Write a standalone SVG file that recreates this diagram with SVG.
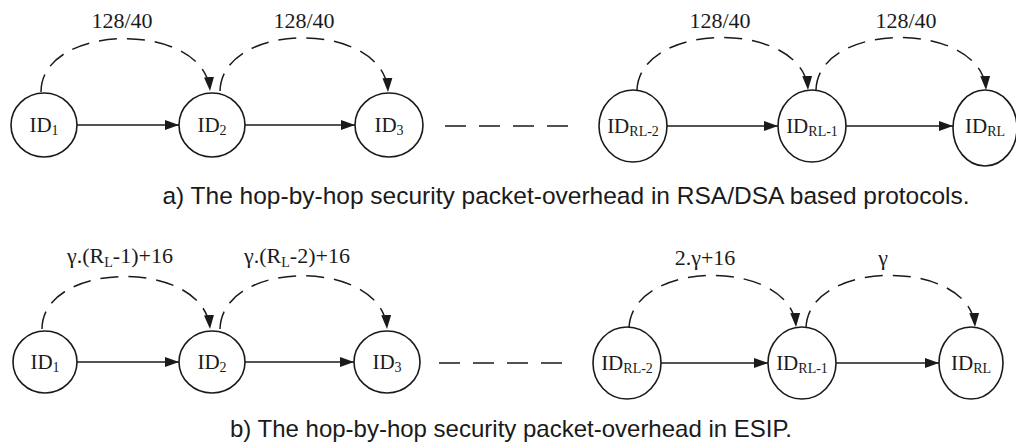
<svg xmlns="http://www.w3.org/2000/svg" width="1016" height="444" viewBox="0 0 1016 444">
<style>
.n{fill:#fff;stroke:#1a1a1a;stroke-width:1.6}
.e{fill:none;stroke:#1a1a1a;stroke-width:1.6}
.d{fill:none;stroke:#1a1a1a;stroke-width:1.5;stroke-dasharray:18 10}
.sep{fill:none;stroke:#1a1a1a;stroke-width:1.6;stroke-dasharray:21 13}
.t{font-family:"Liberation Serif","Times New Roman",serif;font-size:21px;fill:#1a1a1a;text-anchor:middle}
.s{font-size:14px}
.lb{font-family:"Liberation Serif","Times New Roman",serif;font-size:22px;fill:#1a1a1a;text-anchor:middle}
.cap{font-family:"Liberation Sans",Arial,sans-serif;font-size:24px;fill:#1a1a1a;text-anchor:middle}
</style>
<defs>
<marker id="ah" markerUnits="userSpaceOnUse" markerWidth="15" markerHeight="11" refX="14" refY="5.5" orient="auto">
<path d="M0,0.5 L14,5.5 L0,10.5 z" fill="#1a1a1a"/>
</marker>
</defs>
<g id="connectors">
<path class="e" d="M77,125 H179" marker-end="url(#ah)"/>
<path class="e" d="M245,125 H355" marker-end="url(#ah)"/>
<path class="e" d="M667,126 H778" marker-end="url(#ah)"/>
<path class="e" d="M846,126 H953" marker-end="url(#ah)"/>
<path class="d" d="M41,92 C41,22 205,20 210,91" marker-end="url(#ah)"/>
<path class="d" d="M220,91 C222,20 385,20 388,92" marker-end="url(#ah)"/>
<path class="d" d="M637,90 C640,20 804,20 808,90" marker-end="url(#ah)"/>
<path class="d" d="M816,90 C818,20 982,20 986,90" marker-end="url(#ah)"/>
<path class="sep" d="M445,126 H580"/>
<path class="e" d="M77,362 H179" marker-end="url(#ah)"/>
<path class="e" d="M245,362 H354" marker-end="url(#ah)"/>
<path class="e" d="M661,363 H768" marker-end="url(#ah)"/>
<path class="e" d="M836,363 H939" marker-end="url(#ah)"/>
<path class="d" d="M42,329 C42,260 205,258 210,329" marker-end="url(#ah)"/>
<path class="d" d="M220,329 C222,258 383,258 387,329" marker-end="url(#ah)"/>
<path class="d" d="M629,328 C632,258 792,258 796,327" marker-end="url(#ah)"/>
<path class="d" d="M806,328 C808,258 971,258 975,327" marker-end="url(#ah)"/>
<path class="sep" d="M439,363 H572"/>
</g>
<g id="labels">
<text class="lb" x="122" y="28">128/40</text>
<text class="lb" x="304" y="28">128/40</text>
<text class="lb" x="720" y="28">128/40</text>
<text class="lb" x="906" y="28">128/40</text>
<text class="lb" x="120" y="263">γ.(R<tspan class="s" dy="4">L</tspan><tspan dy="-4">-1)+16</tspan></text>
<text class="lb" x="297" y="263">γ.(R<tspan class="s" dy="4">L</tspan><tspan dy="-4">-2)+16</tspan></text>
<text class="lb" x="705" y="265">2.γ+16</text>
<text class="lb" x="883" y="265">γ</text>
</g>
<g id="top-id1"><ellipse class="n" cx="44" cy="125" rx="33" ry="32"/><text class="t" x="44" y="132">ID<tspan class="s" dy="3">1</tspan></text></g>
<g id="top-id2"><ellipse class="n" cx="212" cy="125" rx="33" ry="32"/><text class="t" x="212" y="132">ID<tspan class="s" dy="3">2</tspan></text></g>
<g id="top-id3"><ellipse class="n" cx="389" cy="125" rx="34" ry="32"/><text class="t" x="389" y="132">ID<tspan class="s" dy="3">3</tspan></text></g>
<g id="top-idrl2"><ellipse class="n" cx="633" cy="126" rx="34" ry="36"/><text class="t" x="633" y="133">ID<tspan class="s" dy="3">RL-2</tspan></text></g>
<g id="top-idrl1"><ellipse class="n" cx="812" cy="126" rx="34" ry="36"/><text class="t" x="812" y="133">ID<tspan class="s" dy="3">RL-1</tspan></text></g>
<g id="top-idrl"><ellipse class="n" cx="985" cy="128" rx="32" ry="38"/><text class="t" x="985" y="133">ID<tspan class="s" dy="3">RL</tspan></text></g>
<g id="bot-id1"><ellipse class="n" cx="45" cy="362" rx="32" ry="31"/><text class="t" x="45" y="369">ID<tspan class="s" dy="3">1</tspan></text></g>
<g id="bot-id2"><ellipse class="n" cx="212" cy="362" rx="33" ry="31"/><text class="t" x="212" y="369">ID<tspan class="s" dy="3">2</tspan></text></g>
<g id="bot-id3"><ellipse class="n" cx="387" cy="362" rx="33" ry="31"/><text class="t" x="387" y="369">ID<tspan class="s" dy="3">3</tspan></text></g>
<g id="bot-idrl2"><ellipse class="n" cx="627" cy="363" rx="34" ry="36"/><text class="t" x="627" y="370">ID<tspan class="s" dy="3">RL-2</tspan></text></g>
<g id="bot-idrl1"><ellipse class="n" cx="802" cy="363" rx="34" ry="36"/><text class="t" x="802" y="370">ID<tspan class="s" dy="3">RL-1</tspan></text></g>
<g id="bot-idrl"><ellipse class="n" cx="971" cy="363" rx="32" ry="36"/><text class="t" x="971" y="370">ID<tspan class="s" dy="3">RL</tspan></text></g>
<g id="captions">
<text class="cap" x="566" y="204" style="font-size:24.5px">a) The hop-by-hop security packet-overhead in RSA/DSA based protocols.</text>
<text class="cap" x="511" y="437">b) The hop-by-hop security packet-overhead in ESIP.</text>
</g>
</svg>
